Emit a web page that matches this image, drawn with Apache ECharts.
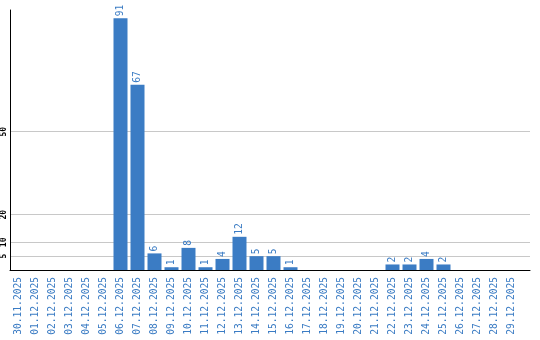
<!DOCTYPE html>
<html><head><meta charset="utf-8">
<script src="https://cdn.jsdelivr.net/npm/echarts@6/dist/echarts.min.js"></script>
<style>html,body{margin:0;padding:0;background:#fff}#c{width:540px;height:340px}</style>
</head><body><div id="c"></div>
<script>
var categories = ["30.11.2025","01.12.2025","02.12.2025","03.12.2025","04.12.2025","05.12.2025","06.12.2025","07.12.2025","08.12.2025","09.12.2025","10.12.2025","11.12.2025","12.12.2025","13.12.2025","14.12.2025","15.12.2025","16.12.2025","17.12.2025","18.12.2025","19.12.2025","20.12.2025","21.12.2025","22.12.2025","23.12.2025","24.12.2025","25.12.2025","26.12.2025","27.12.2025","28.12.2025","29.12.2025"];
var values = [0,0,0,0,0,0,91,67,6,1,8,1,4,12,5,5,1,0,0,0,0,0,2,2,4,2,0,0,0,0];
var yTicks = [5,10,20,50];
var yMax = 94;

var blue = '#3b7cc4';
var mono = '"DejaVu Sans Mono", monospace';
var chart = echarts.init(document.getElementById('c'));
chart.setOption({
  animation: false,
  grid: [
    {left: 10, right: 20, top: 10, bottom: 70, containLabel: false},
    {left: 10, right: 10, top: 10, bottom: 70, containLabel: false}
  ],
  xAxis: [
    {type: 'category', gridIndex: 0, data: categories,
     axisLine: {show: false}, axisTick: {show: false},
     axisLabel: {interval: 0, rotate: 90, margin: 7, color: blue, fontFamily: mono, fontSize: 9.6}},
    {type: 'value', gridIndex: 1, min: 0, max: 1,
     axisLine: {show: true, onZero: false, lineStyle: {color: '#000', width: 1}},
     axisTick: {show: false}, axisLabel: {show: false}, splitLine: {show: false}}
  ],
  yAxis: [
    {type: 'value', gridIndex: 0, min: 0, max: yMax, show: false, splitLine: {show: false}},
    {type: 'value', gridIndex: 1, min: 0, max: yMax,
     axisLine: {show: true, lineStyle: {color: '#000', width: 1}},
     axisTick: {show: false, customValues: yTicks},
     axisLabel: {customValues: yTicks, rotate: 90, margin: 2, color: '#000', fontFamily: mono, fontSize: 8, fontWeight: 'bold'},
     splitLine: {show: true, lineStyle: {color: '#c8c8c8', width: 1}}}
  ],
  series: [{
    type: 'bar', xAxisIndex: 0, yAxisIndex: 0, data: values, barWidth: 14,
    itemStyle: {color: blue},
    label: {show: true, position: 'top', rotate: 90, align: 'left', verticalAlign: 'middle', distance: 2,
      color: blue, fontFamily: mono, fontSize: 9.6,
      formatter: function(p){ return p.value ? String(p.value) : ''; }}
  }]
});
</script></body></html>
